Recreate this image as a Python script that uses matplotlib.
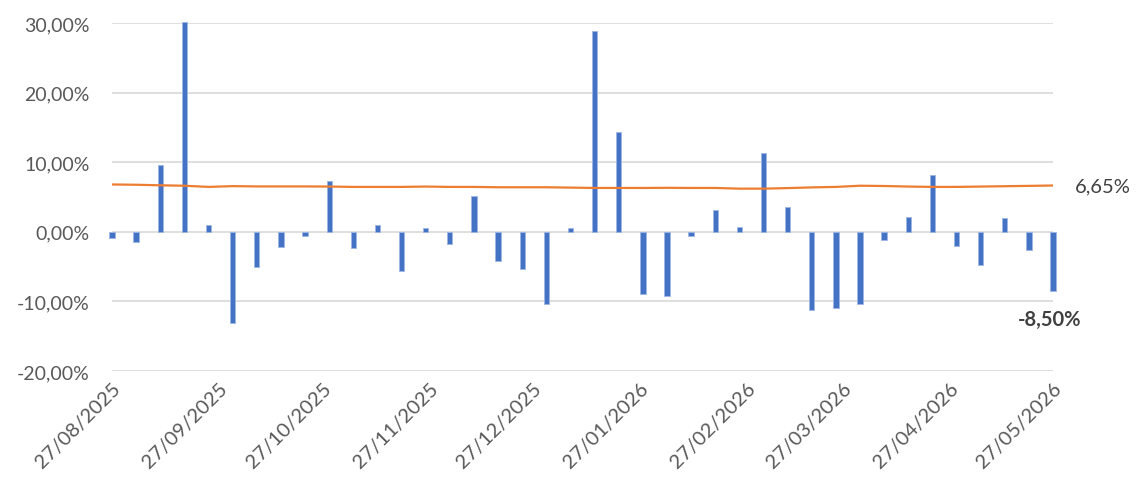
import pandas as pd
import matplotlib
matplotlib.use('Agg')
import matplotlib.pyplot as plt
import matplotlib.dates as mdates
from matplotlib.ticker import FuncFormatter

plt.rcParams['font.family'] = ['Lato', 'DejaVu Sans']

# weekly dates
datas = pd.date_range('2025-08-27', '2026-05-27', freq='7D')

retornos = [-0.86, -1.50, 9.55, 30.20, 0.91, -13.05, -5.04, -2.16, -0.67, 7.29,
            -2.26, 0.91, -5.57, 0.48, -1.78, 5.09, -4.17, -5.37, -10.32, 0.58,
            28.84, 14.40, -8.88, -9.21, -0.67, 3.12, 0.67, 11.32, 3.50, -11.23,
            -10.89, -10.36, -1.15, 2.11, 8.21, -1.97, -4.75, 2.02, -2.59, -8.50]

media = [6.80, 6.76, 6.68, 6.62, 6.45, 6.56, 6.52, 6.52, 6.52, 6.50,
         6.45, 6.45, 6.45, 6.50, 6.45, 6.45, 6.40, 6.40, 6.40, 6.35,
         6.30, 6.30, 6.30, 6.32, 6.30, 6.30, 6.20, 6.20, 6.28, 6.38,
         6.45, 6.62, 6.58, 6.50, 6.45, 6.45, 6.50, 6.55, 6.60, 6.65]

fig = plt.figure(figsize=(11.36, 4.85), dpi=100)
ax = fig.add_axes([0.0986, 0.233, 0.8284, 0.7175])

bars = ax.bar(datas, retornos, width=1.55, color='#4472C4', edgecolor='#9db6e3',
              linewidth=0.6, zorder=3)
for b in bars:
    b.set_clip_on(False)
ax.plot(datas, media, color='#ED7D31', linewidth=1.6, zorder=4)

ax.set_ylim(-20, 30)
ax.set_yticks(range(-20, 31, 10))
ax.yaxis.set_major_formatter(FuncFormatter(lambda v, p: f'{v:.2f}%'.replace('.', ',')))
ax.set_xlim(datas[0], datas[-1])
ax.xaxis.set_major_locator(mdates.MonthLocator(bymonthday=27))
ax.xaxis.set_major_formatter(mdates.DateFormatter('%d/%m/%Y'))

ax.grid(axis='y', color='#d9d9d9', linewidth=1.2, zorder=0)
for s in ax.spines.values():
    s.set_visible(False)
ax.tick_params(length=0, colors='#595959', labelsize=14)
ax.tick_params(axis='y', pad=16)
ax.tick_params(axis='x', pad=6, labelsize=14.5)
plt.setp(ax.get_xticklabels(), rotation=45, ha='right', va='top',
         rotation_mode='anchor')

ax.annotate(f'{media[-1]:.2f}%'.replace('.', ','), xy=(datas[-1], media[-1]),
            xytext=(16, 0), textcoords='offset points', va='center',
            color='#404040', fontsize=14.5, annotation_clip=False)
ax.annotate(f'{retornos[-1]:.2f}%'.replace('.', ','), xy=(datas[-1], retornos[-1]),
            xytext=(-25, -20), textcoords='offset points', va='center',
            color='#404040', fontsize=14.5, fontweight='bold', annotation_clip=False)

fig.savefig('out.png', dpi=100)
